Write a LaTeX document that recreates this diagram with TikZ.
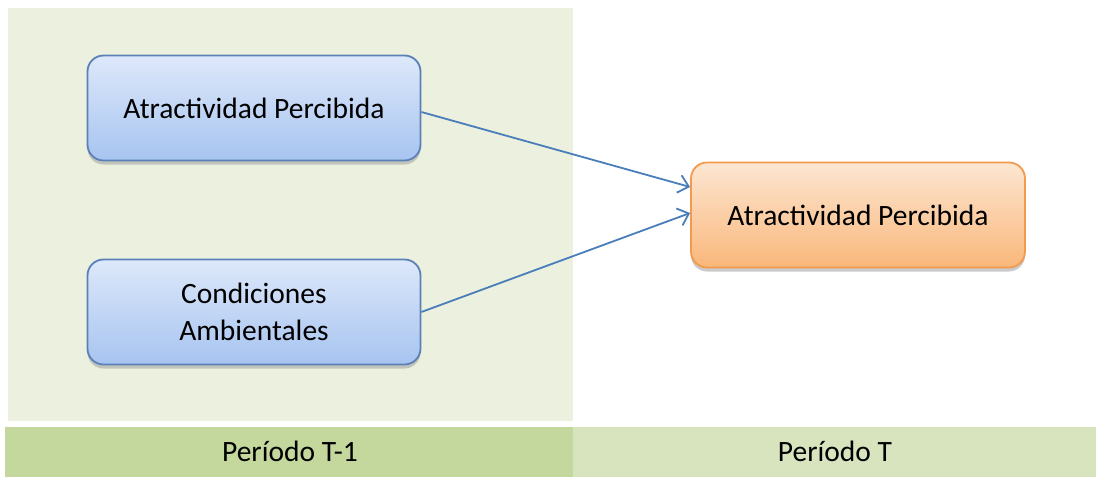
\documentclass[tikz,border=0pt]{standalone}
\usepackage{fontspec}
\setmainfont{Carlito}
\usetikzlibrary{arrows.meta,shadows}
\definecolor{panelL}{HTML}{EBF0DF}
\definecolor{barL}{HTML}{C4D79D}
\definecolor{barR}{HTML}{D8E4BD}
\definecolor{blueTop}{HTML}{DDE8FA}
\definecolor{blueBot}{HTML}{A7C4F0}
\definecolor{blueLine}{HTML}{5B80B8}
\definecolor{orTop}{HTML}{FDE6D2}
\definecolor{orBot}{HTML}{F9B77A}
\definecolor{orLine}{HTML}{F29A4E}
\definecolor{arrowc}{HTML}{4A7EBB}
\tikzset{
  x=1pt,y=-1pt,
  bluebox/.style={draw=blueLine,line width=1.8pt,rounded corners=16pt,top color=blueTop,bottom color=blueBot,
    minimum width=333pt,minimum height=105pt,align=center,font=\fontsize{29.5}{37}\selectfont,
    drop shadow={shadow xshift=0pt,shadow yshift=-4pt,fill=black!40,opacity=0.5}},
  orbox/.style={draw=orLine,line width=1.8pt,rounded corners=16pt,top color=orTop,bottom color=orBot,
    minimum width=334pt,minimum height=105pt,align=center,font=\fontsize{29.5}{37}\selectfont,
    drop shadow={shadow xshift=0pt,shadow yshift=-4pt,fill=black!40,opacity=0.5}},
  conn/.style={draw=arrowc,line width=1.8pt,-{Straight Barb[length=10pt,width=18pt,line width=1.8pt]}},
  barlabel/.style={font=\fontsize{29.5}{36}\selectfont,text=black}
}
\begin{document}
\begin{tikzpicture}
\useasboundingbox (0,0) rectangle (1096,477);
\fill[white] (0,0) rectangle (1096,477);
\fill[panelL] (8,8) rectangle (573,421);
\fill[barL] (5,427) rectangle (573,477);
\fill[barR] (573,427) rectangle (1096,477);
\node[barlabel] (p1) at (290,451) {Período T-1};
\node[barlabel] (p2) at (835,451) {Período T};
\node[bluebox] (a) at (254,108) {Atractividad Percibida};
\node[bluebox] (c) at (254,312) {Condiciones\\Ambientales};
\node[orbox] (t) at (858,215) {Atractividad Percibida};
\draw[conn] (a.east) ++(0,4) coordinate (a1) -- (t.west |- 0,187);
\draw[conn] (c.east) -- (t.west |- 0,213);
\end{tikzpicture}
\end{document}
